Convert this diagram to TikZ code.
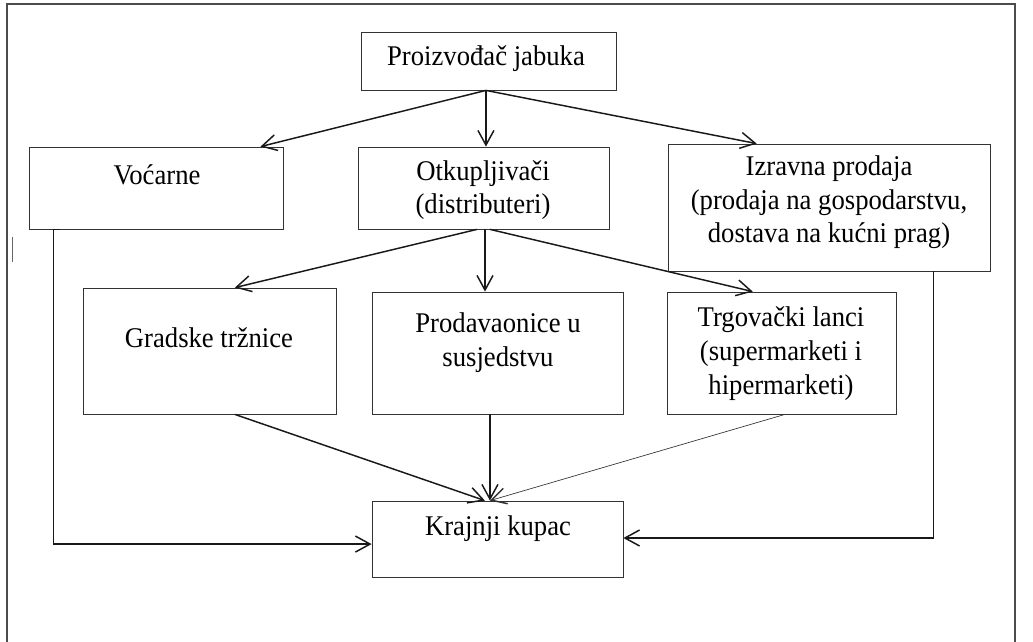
\documentclass[tikz,border=0pt]{standalone}
\usepackage{fontspec}
\setmainfont{Liberation Serif}[FakeStretch=0.935]
\usetikzlibrary{arrows.meta,calc,fit}
\begin{document}
\begin{tikzpicture}[x=0.75pt,y=-0.75pt,
  box/.style={draw=black!80, line width=0.6pt, inner sep=0pt},
  lbl/.style={font=\fontsize{21.4}{25.3}\selectfont, align=center, inner sep=0pt, anchor=base},
  arr/.style={line width=1.1pt, draw=black!90, -{Straight Barb[length=11pt,width=12pt]}},
  thinarr/.style={line width=0.5pt, draw=black!80, -{Straight Barb[length=11pt,width=12pt,line width=1.1pt]}},
  frame/.style={line width=1.1pt, draw=black!70}]
\useasboundingbox (0,0) rectangle (1033,642);
\fill[white] (0,0) rectangle (1033,642);
% outer frame
\draw[frame] (7,642) -- (7,4) -- (1015,4) -- (1015,642);
\draw[line width=0.6pt, draw=black!60] (12,237) -- (12,262);
% boxes
\node[box, fit={(361,32) (616,90)}] (P) {};
\node[box, fit={(29,147) (283,229)}] (V) {};
\node[box, fit={(358,147) (609,229)}] (O) {};
\node[box, fit={(668,144) (990,271)}] (I) {};
\node[box, fit={(83,288) (336,414)}] (G) {};
\node[box, fit={(372,292) (623,414)}] (Pr) {};
\node[box, fit={(667,292) (896,414)}] (T) {};
\node[box, fit={(372,501) (623,577)}] (K) {};
% labels (anchor = baseline of last line)
\node[lbl] (tP) at (486,66) {Proizvođač jabuka};
\node[lbl] (tV) at (157,185) {Voćarne};
\node[lbl] (tO) at (483,214) {Otkupljivači\\(distributeri)};
\node[lbl] (tI) at (829,243) {Izravna prodaja\\(prodaja na gospodarstvu,\\dostava na kućni prag)};
\node[lbl] (tG) at (209,347) {Gradske tržnice};
\node[lbl] (tPr) at (498,366) {Prodavaonice u\\susjedstvu};
\node[lbl] (tT) at (781,394) {Trgovački lanci\\(supermarketi i\\hipermarketi)};
\node[lbl] (tK) at (498,535) {Krajnji kupac};
% connectors
\coordinate (ps) at ($(P.south west)!0.49!(P.south east)$);
\draw[arr] (ps) -- ($(V.north west)!0.91!(V.north east)$);
\draw[arr] (ps) -- (ps |- O.north);
\draw[arr] (ps) -- ($(I.north west)!0.276!(I.north east)$);
\coordinate (os) at ($(O.south west)!0.506!(O.south east)$);
\draw[arr] ($(O.south west)!0.474!(O.south east)$) -- ($(G.north west)!0.60!(G.north east)$);
\draw[arr] (os) -- (os |- Pr.north);
\draw[arr] ($(O.south west)!0.526!(O.south east)$) -- ($(T.north west)!0.375!(T.north east)$);
\coordinate (prs) at ($(Pr.south west)!0.47!(Pr.south east)$);
\draw[arr] ($(G.south west)!0.60!(G.south east)$) -- ($(K.north west)!0.45!(K.north east)$);
\draw[arr] (prs) -- (prs |- K.north);
\draw[thinarr] ($(T.south west)!0.515!(T.south east)$) -- ($(K.north west)!0.47!(K.north east)$);
\coordinate (vs) at ($(V.south west)!0.098!(V.south east)$);
\draw[arr] ([xshift=4.5pt]vs) -- (vs) |- ($(K.north west)!0.566!(K.south west)$);
\draw[arr] ($(I.south west)!0.823!(I.south east)$) |- ($(K.north east)!0.487!(K.south east)$);
\end{tikzpicture}
\end{document}
